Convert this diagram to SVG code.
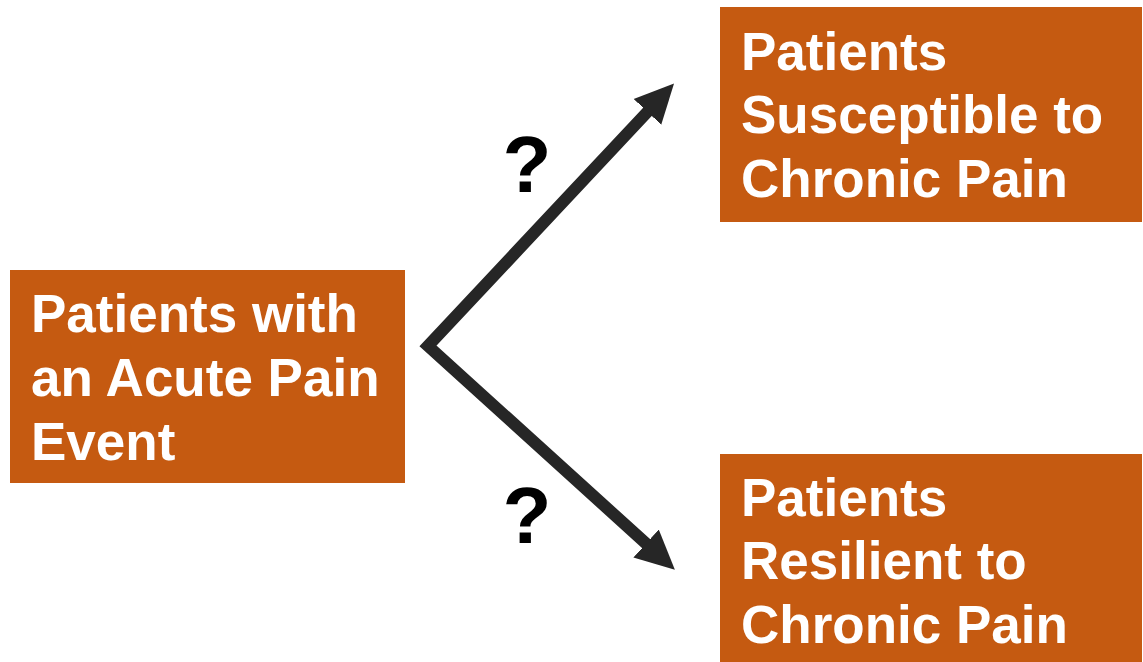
<svg xmlns="http://www.w3.org/2000/svg" width="1143" height="662" viewBox="0 0 1143 662">
<style>
.box{fill:#C55A11}
.t{font-family:"Liberation Sans",Arial,sans-serif;font-weight:bold;font-size:53px;fill:#FFFFFF}
.q{font-family:"Liberation Sans",Arial,sans-serif;font-weight:bold;font-size:80px;fill:#000000;text-anchor:middle}
.conn{fill:none;stroke:#262626;stroke-width:12;stroke-linejoin:miter}
</style>
<defs>
<marker id="ah" markerUnits="userSpaceOnUse" markerWidth="40" markerHeight="40" viewBox="0 -18 36 36" refX="6" refY="0" orient="auto-start-reverse">
<path d="M0,-17 L35,0 L0,17 z" fill="#262626"/>
</marker>
</defs>
<rect width="1143" height="662" fill="#FFFFFF"/>
<g id="connectors">
<path class="conn" d="M652,107 L428,346 L651,548" marker-start="url(#ah)" marker-end="url(#ah)"/>
</g>
<g id="q1"><text class="q" x="527" y="192">?</text></g>
<g id="q2"><text class="q" x="527" y="543">?</text></g>
<g id="acute">
<rect class="box" x="10" y="270" width="395" height="213"/>
<text class="t" x="31" y="332">Patients with</text>
<text class="t" x="31" y="396">an Acute Pain</text>
<text class="t" x="31" y="460">Event</text>
</g>
<g id="susceptible">
<rect class="box" x="720" y="7" width="422" height="215"/>
<text class="t" x="741" y="70">Patients</text>
<text class="t" x="741" y="133">Susceptible to</text>
<text class="t" x="741" y="197">Chronic Pain</text>
</g>
<g id="resilient">
<rect class="box" x="720" y="454" width="422" height="208"/>
<text class="t" x="741" y="516">Patients</text>
<text class="t" x="741" y="579">Resilient to</text>
<text class="t" x="741" y="643">Chronic Pain</text>
</g>
</svg>
